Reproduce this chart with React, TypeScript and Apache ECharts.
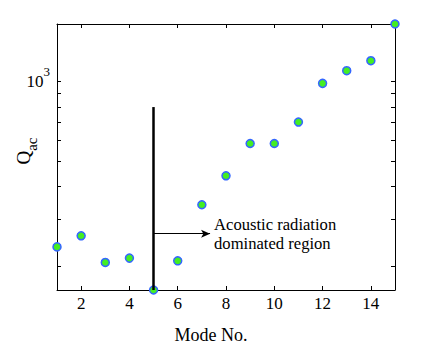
import React, { useEffect, useRef } from "react";
import * as echarts from "echarts";

const modes = [1, 2, 3, 4, 5, 6, 7, 8, 9, 10, 11, 12, 13, 14, 15];
const qac = [236, 260, 206, 214, 162, 209, 341, 439, 582, 582, 702, 984, 1099, 1199, 1652];
const xTicks = [2, 4, 6, 8, 10, 12, 14];
const yTicks = [200, 300, 400, 500, 600, 700, 800, 900, 1000];
const yLabels = [1000];
const dividerX = 5;
const dividerRange = [162, 800];
const arrowY = 265;
const arrowEndX = 7.34;
const annotation = "Acoustic radiation\ndominated region";

const FONT = "'Liberation Serif', 'Times New Roman', serif";

export default function App() {
  const ref = useRef<HTMLDivElement>(null);
  useEffect(() => {
    document.body.style.margin = "0";
    if (!ref.current) return;
    const chart = echarts.init(ref.current, null, { renderer: "svg" });
    const yMin = Math.min(...qac);
    const yMax = Math.max(...qac);
    const axisLine = { show: true, lineStyle: { color: "#000", width: 1 } };
    const tick = { show: true, inside: true, length: 4, lineStyle: { color: "#000", width: 1 } };
    chart.setOption({
      animation: false,
      backgroundColor: "#fff",
      grid: { left: 57, right: 41, top: 24, bottom: 55 },
      xAxis: [
        {
          type: "value", min: 1, max: 15, position: "bottom",
          axisLine, splitLine: { show: false },
          axisTick: { ...tick, customValues: xTicks },
          axisLabel: { customValues: xTicks, color: "#000", fontFamily: FONT, fontSize: 17, margin: 5 },
        },
        {
          type: "value", min: 1, max: 15, position: "top",
          axisLine, splitLine: { show: false },
          axisTick: { ...tick, customValues: xTicks },
          axisLabel: { show: false },
        },
      ],
      yAxis: [
        {
          type: "log", min: yMin, max: yMax, position: "left",
          axisLine, splitLine: { show: false },
          axisTick: { ...tick, customValues: yTicks },
          axisLabel: {
            customValues: yLabels, margin: 7, color: "#000", fontFamily: FONT,
            formatter: (v: number) => "{a|" + 10 + "}{b|" + Math.round(Math.log10(v)) + "}",
            rich: {
              a: { fontSize: 17, lineHeight: 34, verticalAlign: "middle", fontFamily: FONT, color: "#000" },
              b: { fontSize: 13, lineHeight: 14, verticalAlign: "top", fontFamily: FONT, color: "#000" },
            },
          },
        },
        {
          type: "log", min: yMin, max: yMax, position: "right",
          axisLine, splitLine: { show: false },
          axisTick: { ...tick, customValues: yTicks },
          axisLabel: { show: false },
        },
      ],
      graphic: [
        {
          type: "text", x: 23, y: 151, rotation: Math.PI / 2,
          style: {
            text: "{q|Q}{s|ac}", align: "center", verticalAlign: "middle",
            rich: {
              q: { fontSize: 19, lineHeight: 32, verticalAlign: "middle", fontFamily: FONT, fill: "#000" },
              s: { fontSize: 15, lineHeight: 15, verticalAlign: "bottom", fontFamily: FONT, fill: "#000" },
            },
          },
        },
        {
          type: "text", x: 211, y: 335,
          style: { text: "Mode No.", fontSize: 18, fontFamily: FONT, fill: "#000", align: "center", verticalAlign: "middle" },
        },
      ],
      series: [
        {
          type: "scatter", data: [], z: 1,
          markLine: {
            silent: true, symbol: ["none", "none"],
            data: [
              [
                { coord: [dividerX, dividerRange[0]], lineStyle: { color: "#000", width: 2.5, type: "solid" }, label: { show: false } },
                { coord: [dividerX, dividerRange[1]] },
              ],
              [
                {
                  coord: [dividerX, arrowY], symbol: "none",
                  lineStyle: { color: "#000", width: 1, type: "solid" },
                  label: {
                    show: true, position: "end", distance: 4, formatter: annotation,
                    fontFamily: FONT, fontSize: 16.6, lineHeight: 19, color: "#000", align: "left",
                  },
                },
                { coord: [arrowEndX, arrowY], symbol: "arrow", symbolSize: [6, 9] },
              ],
            ],
          },
        },
        {
          type: "scatter", z: 3,
          data: modes.map((m, i) => [m, qac[i]]),
          symbol: "circle", symbolSize: 8,
          itemStyle: { color: "#44ee22", borderColor: "#3366ff", borderWidth: 1.5, opacity: 1 },
        },
      ],
    });
    return () => chart.dispose();
  }, []);
  return <div ref={ref} style={{ width: 436, height: 345 }} />;
}
